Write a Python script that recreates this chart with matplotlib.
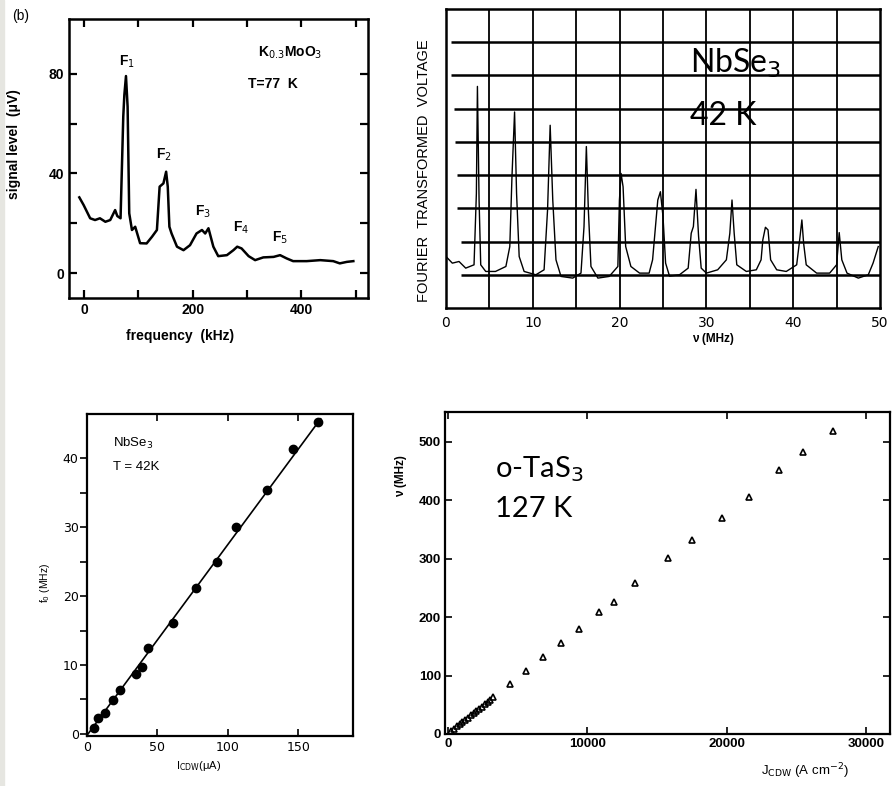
import matplotlib
matplotlib.use('Agg')
import matplotlib.pyplot as plt
from matplotlib.patches import Rectangle

# top left: K0.3MoO3 noise spectrum
kmo_freq = [-9, -1, 11, 20, 29, 39, 48, 57, 61, 67, 72, 74, 77, 80, 83, 88, 94, 103, 115,
            125, 134, 139, 146, 151, 154, 157, 161, 171, 183, 195, 207, 217, 223, 229, 238,
            247, 263, 275, 282, 290, 303, 315, 330, 349, 361, 373, 385, 410, 435, 459, 471,
            484, 496]
kmo_sig = [30.4, 27.3, 22, 21.3, 22, 20.6, 21.3, 25.3, 22.9, 22, 62.8, 71.5, 79.1, 66.8, 24,
           17.3, 18.6, 12, 11.9, 14.6, 17.3, 34.7, 36, 40.7, 34.7, 18.6, 15.9, 10.6, 9.2, 11.2,
           15.9, 17.3, 15.9, 18, 10.6, 6.8, 7.2, 9.2, 10.6, 9.9, 6.8, 5.2, 6.3, 6.5, 7.2, 5.9,
           4.8, 4.8, 5.2, 4.8, 3.9, 4.5, 4.8]
kmo_peak_names = ['F$_1$', 'F$_2$', 'F$_3$', 'F$_4$', 'F$_5$']
kmo_peak_x = [79, 146, 219, 290, 361]
kmo_peak_y = [84.7, 47.4, 24.6, 18, 14]

# top right: NbSe3 Fourier transformed voltage
nbse_nu = [0, 0.73, 1.5, 2.27, 3.23, 3.5, 3.62, 3.81, 4.0, 4.58, 5.7, 6.9, 7.35, 7.6, 7.9,
           8.13, 8.43, 9.0, 10.35, 11.3, 11.7, 12.0, 12.3, 12.67, 13.25, 14.6, 15.55, 15.9,
           16.17, 16.4, 16.7, 17.5, 18.8, 19.8, 19.98, 20.17, 20.4, 20.7, 21.3, 22.3, 23.4,
           23.8, 24.4, 24.7, 25.0, 25.3, 25.75, 26.9, 27.9, 28.25, 28.5, 28.8, 29.1, 29.4,
           30.0, 31.3, 32.3, 32.7, 32.95, 33.2, 33.5, 34.6, 35.75, 36.3, 36.5, 36.8, 37.1,
           37.4, 38.1, 39.2, 40.4, 40.7, 41.0, 41.2, 41.5, 42.7, 44.2, 45.0, 45.3, 45.6, 46.2,
           47.5, 48.65, 49.2, 49.8]
nbse_v = [1.55, 1.35, 1.4, 1.2, 1.3, 3.45, 6.67, 3.25, 1.3, 1.1, 1.1, 1.25, 1.85, 3.95, 5.9,
          3.45, 1.55, 1.1, 1.0, 1.15, 2.95, 5.5, 3.25, 1.45, 0.95, 0.9, 1.05, 2.45, 4.86, 2.95,
          1.25, 0.9, 0.95, 1.25, 3.25, 4.05, 3.65, 1.85, 1.25, 1.05, 1.05, 1.45, 3.25, 3.5,
          2.75, 1.35, 0.96, 1.0, 1.2, 2.25, 2.45, 3.57, 2.15, 1.2, 1.05, 1.15, 1.45, 2.25,
          3.25, 2.25, 1.3, 1.1, 1.15, 1.45, 2.05, 2.43, 2.35, 1.45, 1.15, 1.1, 1.3, 1.95,
          2.65, 1.95, 1.3, 1.05, 1.05, 1.3, 2.27, 1.45, 1.05, 0.9, 1.0, 1.35, 1.85]
grid_levels = [1, 2, 3, 4, 5, 6, 7, 8]
grid_starts = [1.7, 1.7, 1.3, 1.3, 1.0, 0.9, 0.55, 0.55]
grid_cols = [5, 10, 15, 20, 25, 30, 35, 40, 45]

# bottom left: NbSe3 f0 vs I_CDW
icdw = [4.7, 7.5, 13, 18.6, 23.3, 34.7, 39.1, 43.1, 61.3, 77.6, 92.6, 105.6, 128.2, 146.6, 164.3]
f0 = [0.8, 2.3, 3.1, 4.9, 6.3, 8.7, 9.7, 12.5, 16.1, 21.1, 24.9, 30.0, 35.4, 41.3, 45.2]
fit_i = [0, 166]
fit_f = [-0.2, 45.7]

# bottom right: o-TaS3 nu vs J_CDW
jcdw = [250, 450, 650, 850, 1050, 1250, 1450, 1650, 1850, 2050, 2250, 2450, 2650, 2850,
        3050, 3250, 4490, 5640, 6860, 8100, 9410, 10850, 11920, 13450, 15790, 17510, 19670,
        21600, 23750, 25470, 27620]
nu_tas = [5, 9, 13, 17, 20, 24, 28, 32, 36, 40, 43, 47, 51, 55, 59, 63, 86, 108, 131, 155,
          180, 208, 226, 259, 302, 332, 370, 406, 451, 482, 519]

fig = plt.figure(figsize=(8.93, 7.86), dpi=100)
fig.patch.set_facecolor('white')
fig.patches.append(Rectangle((0, 0), 4 / 893, 1, transform=fig.transFigure,
                             color='#e6e6e1', zorder=0))

scan = 'Liberation Sans'

# ---- panel 1
ax1 = fig.add_axes([69 / 893, 1 - 298 / 786, 299 / 893, 279 / 786])
ax1.plot(kmo_freq, kmo_sig, color='black', lw=1.8)
ax1.set_xlim(-28, 523)
ax1.set_ylim(-10, 102)
ax1.set_xticks([0, 200, 400])
ax1.set_xticks([100, 300, 500], minor=True)
ax1.set_yticks([0, 40, 80])
ax1.set_yticks([20, 60], minor=True)
ax1.tick_params(which='both', direction='in', top=True, right=True, length=6, width=1.6,
                labelsize=10)
for lab in ax1.get_xticklabels() + ax1.get_yticklabels():
    lab.set_fontweight('bold')
    lab.set_family(scan)
for s in ax1.spines.values():
    s.set_linewidth(1.8)
for name, x, y in zip(kmo_peak_names, kmo_peak_x, kmo_peak_y):
    ax1.text(x, y, name, ha='center', va='center', fontsize=10, fontweight='bold', family=scan)
ax1.text(379, 88.4, 'K$_{0.3}$MoO$_3$', ha='center', va='center', fontsize=10,
         fontweight='bold', family=scan)
ax1.text(348, 76, 'T=77  K', ha='center', va='center', fontsize=10, fontweight='bold',
         family=scan)
ax1.set_xlabel('frequency  (kHz)', fontsize=10, fontweight='bold', family=scan)
ax1.xaxis.set_label_coords(0.37, -0.11)
ax1.set_ylabel('signal level  (μV)', fontsize=10, fontweight='bold', family=scan)
ax1.yaxis.set_label_coords(-0.16, 0.55)
fig.text(12 / 893, 1 - 16 / 786, '(b)', fontsize=10, va='center', family=scan)

# ---- panel 2
ax2 = fig.add_axes([446 / 893, 1 - 308 / 786, 434 / 893, 299 / 786])
ax2.plot(nbse_nu, nbse_v, color='black', lw=1.0)
ax2.hlines(grid_levels, grid_starts, 50, color='black', lw=1.8)
ax2.vlines(grid_cols, 0, 9, color='black', lw=1.3)
ax2.set_xlim(0, 50)
ax2.set_ylim(0, 9)
ax2.set_xticks([0, 10, 20, 30, 40, 50])
ax2.set_yticks([])
ax2.tick_params(length=0, labelsize=10, pad=6)
for s in ax2.spines.values():
    s.set_linewidth(1.8)
ax2.set_ylabel('FOURIER  TRANSFORMED  VOLTAGE', fontsize=10.5, family=scan)
ax2.yaxis.set_label_coords(-0.035, 0.46)
ax2.set_xlabel('ν (MHz)', fontsize=8.5, fontweight='bold', family=scan)
ax2.xaxis.set_label_coords(0.615, -0.085)
ax2.text(28.1, 7.1, 'NbSe$_3$', fontsize=23, family='Lato')
ax2.text(28.1, 5.5, '42 K', fontsize=23, family='Lato')

# ---- panel 3
ax3 = fig.add_axes([87 / 893, 1 - 736 / 786, 266 / 893, 322 / 786])
ax3.plot(fit_i, fit_f, color='black', lw=1.2)
ax3.plot(icdw, f0, 'o', color='black', ms=6)
ax3.set_xlim(0, 189)
ax3.set_ylim(-0.3, 46.4)
ax3.set_xticks([0, 50, 100, 150])
ax3.set_yticks([0, 10, 20, 30, 40])
ax3.set_yticks([5, 15, 25, 35], minor=True)
ax3.tick_params(axis='y', which='both', direction='out', length=5, width=1.2, labelsize=9,
                pad=1)
ax3.tick_params(axis='x', direction='in', top=True, length=5, width=1.2, labelsize=9)
for s in ax3.spines.values():
    s.set_linewidth(1.6)
ax3.text(18.4, 41.6, 'NbSe$_3$', fontsize=9.5, family=scan)
ax3.text(18.4, 38.3, 'T = 42K', fontsize=9.5, family=scan)
ax3.set_xlabel('I$_{\\rm CDW}$(μA)', fontsize=8, family=scan)
ax3.xaxis.set_label_coords(0.42, -0.07)
ax3.set_ylabel('f$_0$ (MHz)', fontsize=7.5, family=scan)
ax3.yaxis.set_label_coords(-0.13, 0.475)

# ---- panel 4
ax4 = fig.add_axes([445 / 893, 1 - 734 / 786, 445 / 893, 322 / 786])
ax4.plot(jcdw, nu_tas, '^', mfc='none', mec='black', mew=1.2, ms=5)
ax4.set_xlim(-200, 31700)
ax4.set_ylim(0, 551)
ax4.set_xticks([0, 10000, 20000, 30000])
ax4.set_yticks([0, 100, 200, 300, 400, 500])
ax4.tick_params(direction='in', top=True, right=True, length=5, width=1.2, labelsize=9.5,
                pad=3)
for lab in ax4.get_xticklabels() + ax4.get_yticklabels():
    lab.set_fontweight('bold')
    lab.set_family(scan)
for s in ax4.spines.values():
    s.set_linewidth(1.6)
ax4.text(3370, 440, 'o-TaS$_3$', fontsize=21, family='Lato')
ax4.text(3370, 372, '127 K', fontsize=21, family='Lato')
ax4.set_xlabel('J$_{\\rm CDW}$ (A cm$^{-2}$)', fontsize=9.5, family=scan)
ax4.xaxis.set_label_coords(0.81, -0.085)
ax4.set_ylabel('ν (MHz)', fontsize=8.5, fontweight='bold', family=scan)
ax4.yaxis.set_label_coords(-0.085, 0.8)

fig.savefig('out.png', dpi=100)
